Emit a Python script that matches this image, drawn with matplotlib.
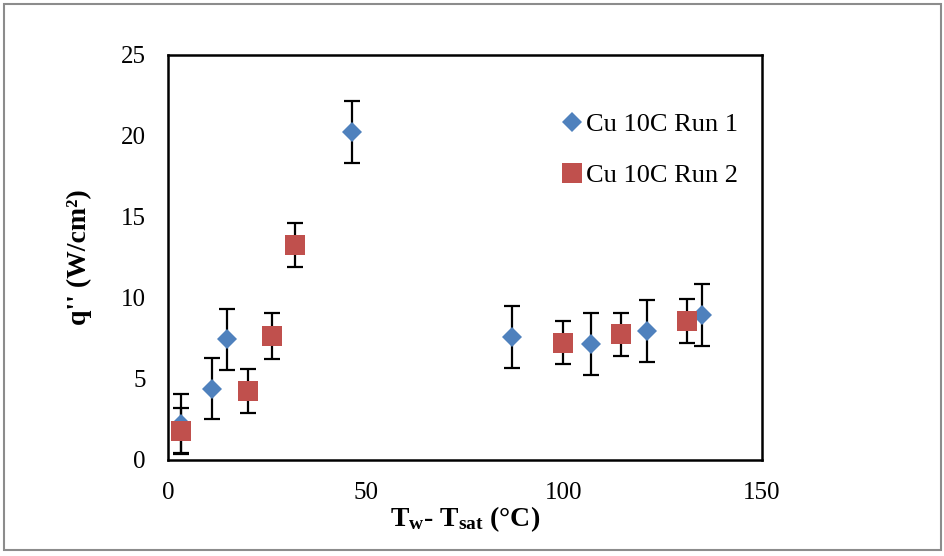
import matplotlib
matplotlib.use("Agg")
import matplotlib.pyplot as plt
from matplotlib.patches import Rectangle

plt.rcParams['font.family'] = ['Liberation Serif', 'DejaVu Serif']
plt.rcParams['mathtext.fontset'] = 'custom'
plt.rcParams['mathtext.rm'] = 'Liberation Serif'
plt.rcParams['mathtext.bf'] = 'Liberation Serif:bold'
plt.rcParams['mathtext.default'] = 'bf'

# Run 1 (diamonds)
run1_dt = [3.2, 11.0, 14.8, 46.5, 86.8, 106.7, 121.0, 134.8]
run1_q = [2.2, 4.4, 7.45, 20.25, 7.6, 7.15, 7.95, 8.95]
run1_err = [1.85, 1.9, 1.9, 1.9, 1.9, 1.9, 1.9, 1.9]

# Run 2 (squares)
run2_dt = [3.2, 20.1, 26.2, 32.1, 99.8, 114.3, 131.1]
run2_q = [1.8, 4.25, 7.65, 13.25, 7.25, 7.75, 8.6]
run2_err = [1.4, 1.35, 1.4, 1.35, 1.35, 1.35, 1.35]

blue = '#4F81BD'
red = '#C0504D'

fig = plt.figure(figsize=(9.45, 5.56), dpi=100)
ax = fig.add_axes([0.1778, 0.1727, 0.6286, 0.7284])

ax.errorbar(run1_dt, run1_q, yerr=run1_err, fmt='none', ecolor='black',
            elinewidth=1.6, capsize=5.5, capthick=1.6, zorder=2)
ax.errorbar(run2_dt, run2_q, yerr=run2_err, fmt='none', ecolor='black',
            elinewidth=1.6, capsize=5.5, capthick=1.6, zorder=2)
ax.plot(run1_dt, run1_q, linestyle='none', marker='D', markersize=10.5,
        color=blue, markeredgewidth=0, label='Cu 10C Run 1', zorder=3)
ax.plot(run2_dt, run2_q, linestyle='none', marker='s', markersize=14.5,
        color=red, markeredgewidth=0, label='Cu 10C Run 2', zorder=4)

ax.set_xlim(0, 150)
ax.set_ylim(0, 25)
ax.set_xticks([0, 50, 100, 150])
ax.set_yticks([0, 5, 10, 15, 20, 25])
ax.tick_params(length=0, labelsize=18)
ax.tick_params(axis='y', pad=16)
ax.tick_params(axis='x', pad=16)
for s in ax.spines.values():
    s.set_linewidth(1.8)
    s.set_color('black')

ax.set_xlabel('T$_{w}$- T$_{sat}$ (°C)', fontsize=20, fontweight='bold', labelpad=0)
ax.set_ylabel("q'' (W/cm²)", fontsize=20, fontweight='bold', labelpad=21)

ax.legend(loc='center left', bbox_to_anchor=(560 / 945, 1 - 150 / 556), bbox_transform=fig.transFigure,
          frameon=False, fontsize=19, handletextpad=0.1, labelspacing=1.05,
          handlelength=0.9, borderaxespad=0, borderpad=0)

fig.patches.append(Rectangle((4 / 945, 6 / 556), 937 / 945, 546 / 556, transform=fig.transFigure,
                             fill=False, edgecolor='#8c8c8c', linewidth=1.5))

fig.savefig('out.png', dpi=100)
